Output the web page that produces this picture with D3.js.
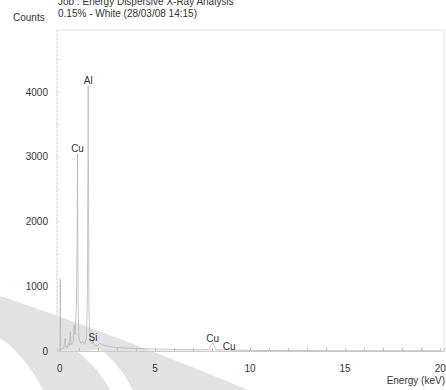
<!DOCTYPE html>
<html>
<head>
<meta charset="utf-8">
<script src="https://cdnjs.cloudflare.com/ajax/libs/d3/7.8.5/d3.min.js"></script>
<style>
  body { margin: 0; background: #fff; }
  text { font-family: "Liberation Sans", Arial, sans-serif; fill: #333; }
</style>
</head>
<body>
<div id="chart"></div>
<script>
// spectrum points (keV, counts)
var energy = [-0.1, 0.0, 0.02, 0.05, 0.1, 0.2, 0.28, 0.32, 0.4, 0.45, 0.5, 0.55, 0.6, 0.7, 0.75, 0.8,
  0.87, 0.9, 0.93, 0.96, 1.0, 1.1, 1.2, 1.3, 1.4, 1.45, 1.49, 1.53, 1.6, 1.7, 1.74, 1.8, 1.9, 2.0,
  2.1, 2.2, 2.4, 2.6, 2.8, 3.0, 3.5, 4.0, 4.5, 5.0, 5.5, 6.0, 6.5, 7.0, 7.5, 7.85, 8.04, 8.2, 8.6,
  8.9, 9.1, 9.5, 10, 11, 12, 13, 14, 15, 16, 17, 18, 19, 20];
var counts = [0, 10, 1110, 20, 30, 40, 200, 50, 60, 120, 80, 300, 90, 150, 400, 250,
  700, 1500, 3050, 800, 200, 120, 150, 100, 200, 900, 4100, 600, 150, 110, 160, 100, 80, 90,
  120, 100, 80, 70, 60, 55, 45, 40, 35, 30, 28, 25, 22, 20, 18, 25, 130, 20, 15,
  30, 12, 12, 10, 8, 6, 5, 4, 3, 3, 2, 2, 2, 2];

// peak labels
var peakNames = ["Al", "Cu", "Si", "Cu", "Cu"];
var peakEnergy = [1.49, 0.93, 1.74, 8.04, 8.9];
var peakLabelY = [4130, 3070, 150, 140, 10];

var xTicks = [0, 5, 10, 15, 20];
var yTicks = [0, 1000, 2000, 3000, 4000];

var svgWidth = 446;
var svgHeight = 390;

var svg = d3.select("#chart")
  .append("svg")
  .attr("width", svgWidth)
  .attr("height", svgHeight);

// faint watermark in the lower left corner
svg.append("path")
  .attr("d", "M0,296 C60,316 140,345 248,390 L0,390 Z")
  .attr("fill", "#e2e2e2");
svg.append("path")
  .attr("d", "M0,338 C10,345 28,360 43,390 L0,390 Z")
  .attr("fill", "#fff");
svg.append("path")
  .attr("d", "M78,352 C90,362 102,374 110,390 L133,390 C124,372 112,358 100,349 Z")
  .attr("fill", "#fff");

var x = d3.scaleLinear()
  .domain([-0.15, 20.2])
  .range([57, 444]);

var y = d3.scaleLinear()
  .domain([0, 4960])
  .range([351, 30]);

// frame
svg.append("rect")
  .attr("x", 57)
  .attr("y", 30)
  .attr("width", 387)
  .attr("height", 321)
  .attr("fill", "none")
  .attr("stroke", "#e4e4e4")
  .attr("stroke-width", 1);

svg.append("line")
  .attr("x1", 57).attr("x2", 57)
  .attr("y1", 30).attr("y2", 351)
  .attr("stroke", "#ddd")
  .attr("stroke-dasharray", "2,2");

// x axis with ticks every keV
var xAxis = svg.append("g")
  .attr("transform", "translate(0,351)")
  .call(d3.axisBottom(x).tickValues(d3.range(0, 21, 1)).tickSize(-3).tickFormat(""));
xAxis.select(".domain").attr("stroke", "#ccc");
xAxis.selectAll(".tick line").attr("stroke", "#bbb");

svg.selectAll(".xlab")
  .data(xTicks)
  .enter()
  .append("text")
  .attr("x", d => x(d))
  .attr("y", 372)
  .attr("text-anchor", "middle")
  .attr("font-size", 10)
  .text(d => d);

// y axis labels
svg.selectAll(".ylab")
  .data(yTicks)
  .enter()
  .append("text")
  .attr("x", 48)
  .attr("y", d => y(d) + 3.5)
  .attr("text-anchor", "end")
  .attr("font-size", 10)
  .text(d => d);

svg.selectAll(".ytick")
  .data(d3.range(0, 4900, 500))
  .enter()
  .append("line")
  .attr("x1", 57).attr("x2", 60)
  .attr("y1", d => y(d)).attr("y2", d => y(d))
  .attr("stroke", "#ddd");

// spectrum
var pts = energy.map((e, i) => [e, counts[i]]);
svg.append("path")
  .datum(pts)
  .attr("fill", "none")
  .attr("stroke", "#b8b8b8")
  .attr("stroke-width", 0.8)
  .attr("d", d3.line().x(d => x(d[0])).y(d => y(d[1])));

// peak labels
svg.selectAll(".peak")
  .data(peakNames)
  .enter()
  .append("text")
  .attr("x", (d, i) => x(peakEnergy[i]))
  .attr("y", (d, i) => y(peakLabelY[i]))
  .attr("text-anchor", "middle")
  .attr("font-size", 10)
  .text(d => d);

// titles (first line is cut at the top edge, as in the original)
svg.append("text").attr("x", 58).attr("y", 5).attr("font-size", 10)
  .text("Job : Energy Dispersive X-Ray Analysis");
svg.append("text").attr("x", 58).attr("y", 17).attr("font-size", 10)
  .text("0.15% - White (28/03/08 14:15)");
svg.append("text").attr("x", 13).attr("y", 21).attr("font-size", 10)
  .text("Counts");
svg.append("text").attr("x", 445).attr("y", 384).attr("text-anchor", "end").attr("font-size", 10)
  .text("Energy (keV)");
</script>
</body>
</html>
